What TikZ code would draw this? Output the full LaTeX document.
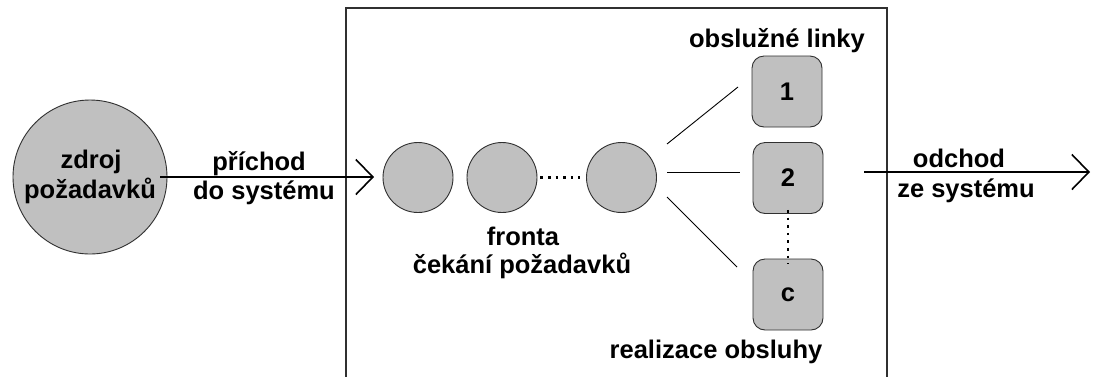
\documentclass[tikz,border=0pt]{standalone}
\usepackage{fontspec}
\setmainfont{Liberation Sans}
\usetikzlibrary{shapes.geometric,arrows.meta}
\definecolor{cellgray}{HTML}{C0C0C0}
\definecolor{edgegray}{HTML}{303030}
\tikzset{
  lbl/.style={font=\bfseries\fontsize{25.5}{30}\selectfont, anchor=base, inner sep=0pt},
  client/.style={circle, draw=edgegray, line width=0.9pt, fill=cellgray, minimum size=70pt, inner sep=0pt},
  server/.style={rounded corners=12pt, draw=edgegray, line width=0.9pt, fill=cellgray, minimum width=70pt, minimum height=71pt, inner sep=0pt, font=\bfseries\fontsize{25.5}{30}\selectfont},
  flow/.style={line width=2.6pt, -{Straight Barb[length=17pt, width=35pt, line width=1.6pt]}},
  fan/.style={line width=0.9pt},
  dots/.style={line width=2.6pt, dash pattern=on 2.6pt off 5pt}
}
\begin{document}
\begin{tikzpicture}[x=1pt, y=-1pt]
\useasboundingbox (0,0) rectangle (1098,376);
\fill[white] (0,0) rectangle (1098,376);

% system boundary (open at the bottom edge)
\draw[edgegray, line width=2pt] (346,377) -- (346,8) -- (887,8) -- (887,377);

% source of requests
\node[circle, draw=edgegray, line width=0.9pt, fill=cellgray, minimum size=154pt, inner sep=0pt] (src) at (90,177) {};
\node[lbl] (srcA) at (91,168) {zdroj};
\node[lbl] (srcB) at (90,198) {požadavků};

% waiting queue
\node[client] (q1) at (418,177.5) {};
\node[client] (q2) at (502,177.5) {};
\node[client] (q3) at (621.5,177.5) {};
\draw[dots] ([xshift=3pt]q2.east) -- ([xshift=-6pt]q3.west);

% service channels
\node[server] (b1) at (787,91.5) {1};
\node[server] (b2) at (788,178) {2};
\node[server] (bc) at (788,294.5) {c};
\draw[dots] ([yshift=4pt]b2.south) -- ([yshift=-5pt]bc.north);

% labels
\node[lbl] (lin) at (259,170) {příchod};
\node[lbl] (lin2) at (264,199) {do systému};
\node[lbl] (lq) at (523,245) {fronta};
\node[lbl] (lq2) at (522,273) {čekání požadavků};
\node[lbl] (ls) at (777,47) {obslužné linky};
\node[lbl] (lr) at (716,358) {realizace obsluhy};
\node[lbl] (lout) at (959,167) {odchod};
\node[lbl] (lout2) at (966,197) {ze systému};

% arrival arrow
\coordinate (inEnd) at (374,177);
\draw[flow] ([xshift=-7pt]src.east) -- (inEnd);

% fan-out from the queue to the channels
\coordinate (f1a) at (667,144);
\coordinate (f1b) at (738,87);
\coordinate (f2a) at (667,172);
\coordinate (f2b) at (740,172);
\coordinate (f3a) at (667,197);
\coordinate (f3b) at (737,267);
\draw[fan] (f1a) -- (f1b);
\draw[fan] (f2a) -- (f2b);
\draw[fan] (f3a) -- (f3b);

% departure arrow
\coordinate (outS) at (864,172);
\coordinate (outE) at (1090,172);
\draw[flow] (outS) -- (outE);
\end{tikzpicture}
\end{document}
